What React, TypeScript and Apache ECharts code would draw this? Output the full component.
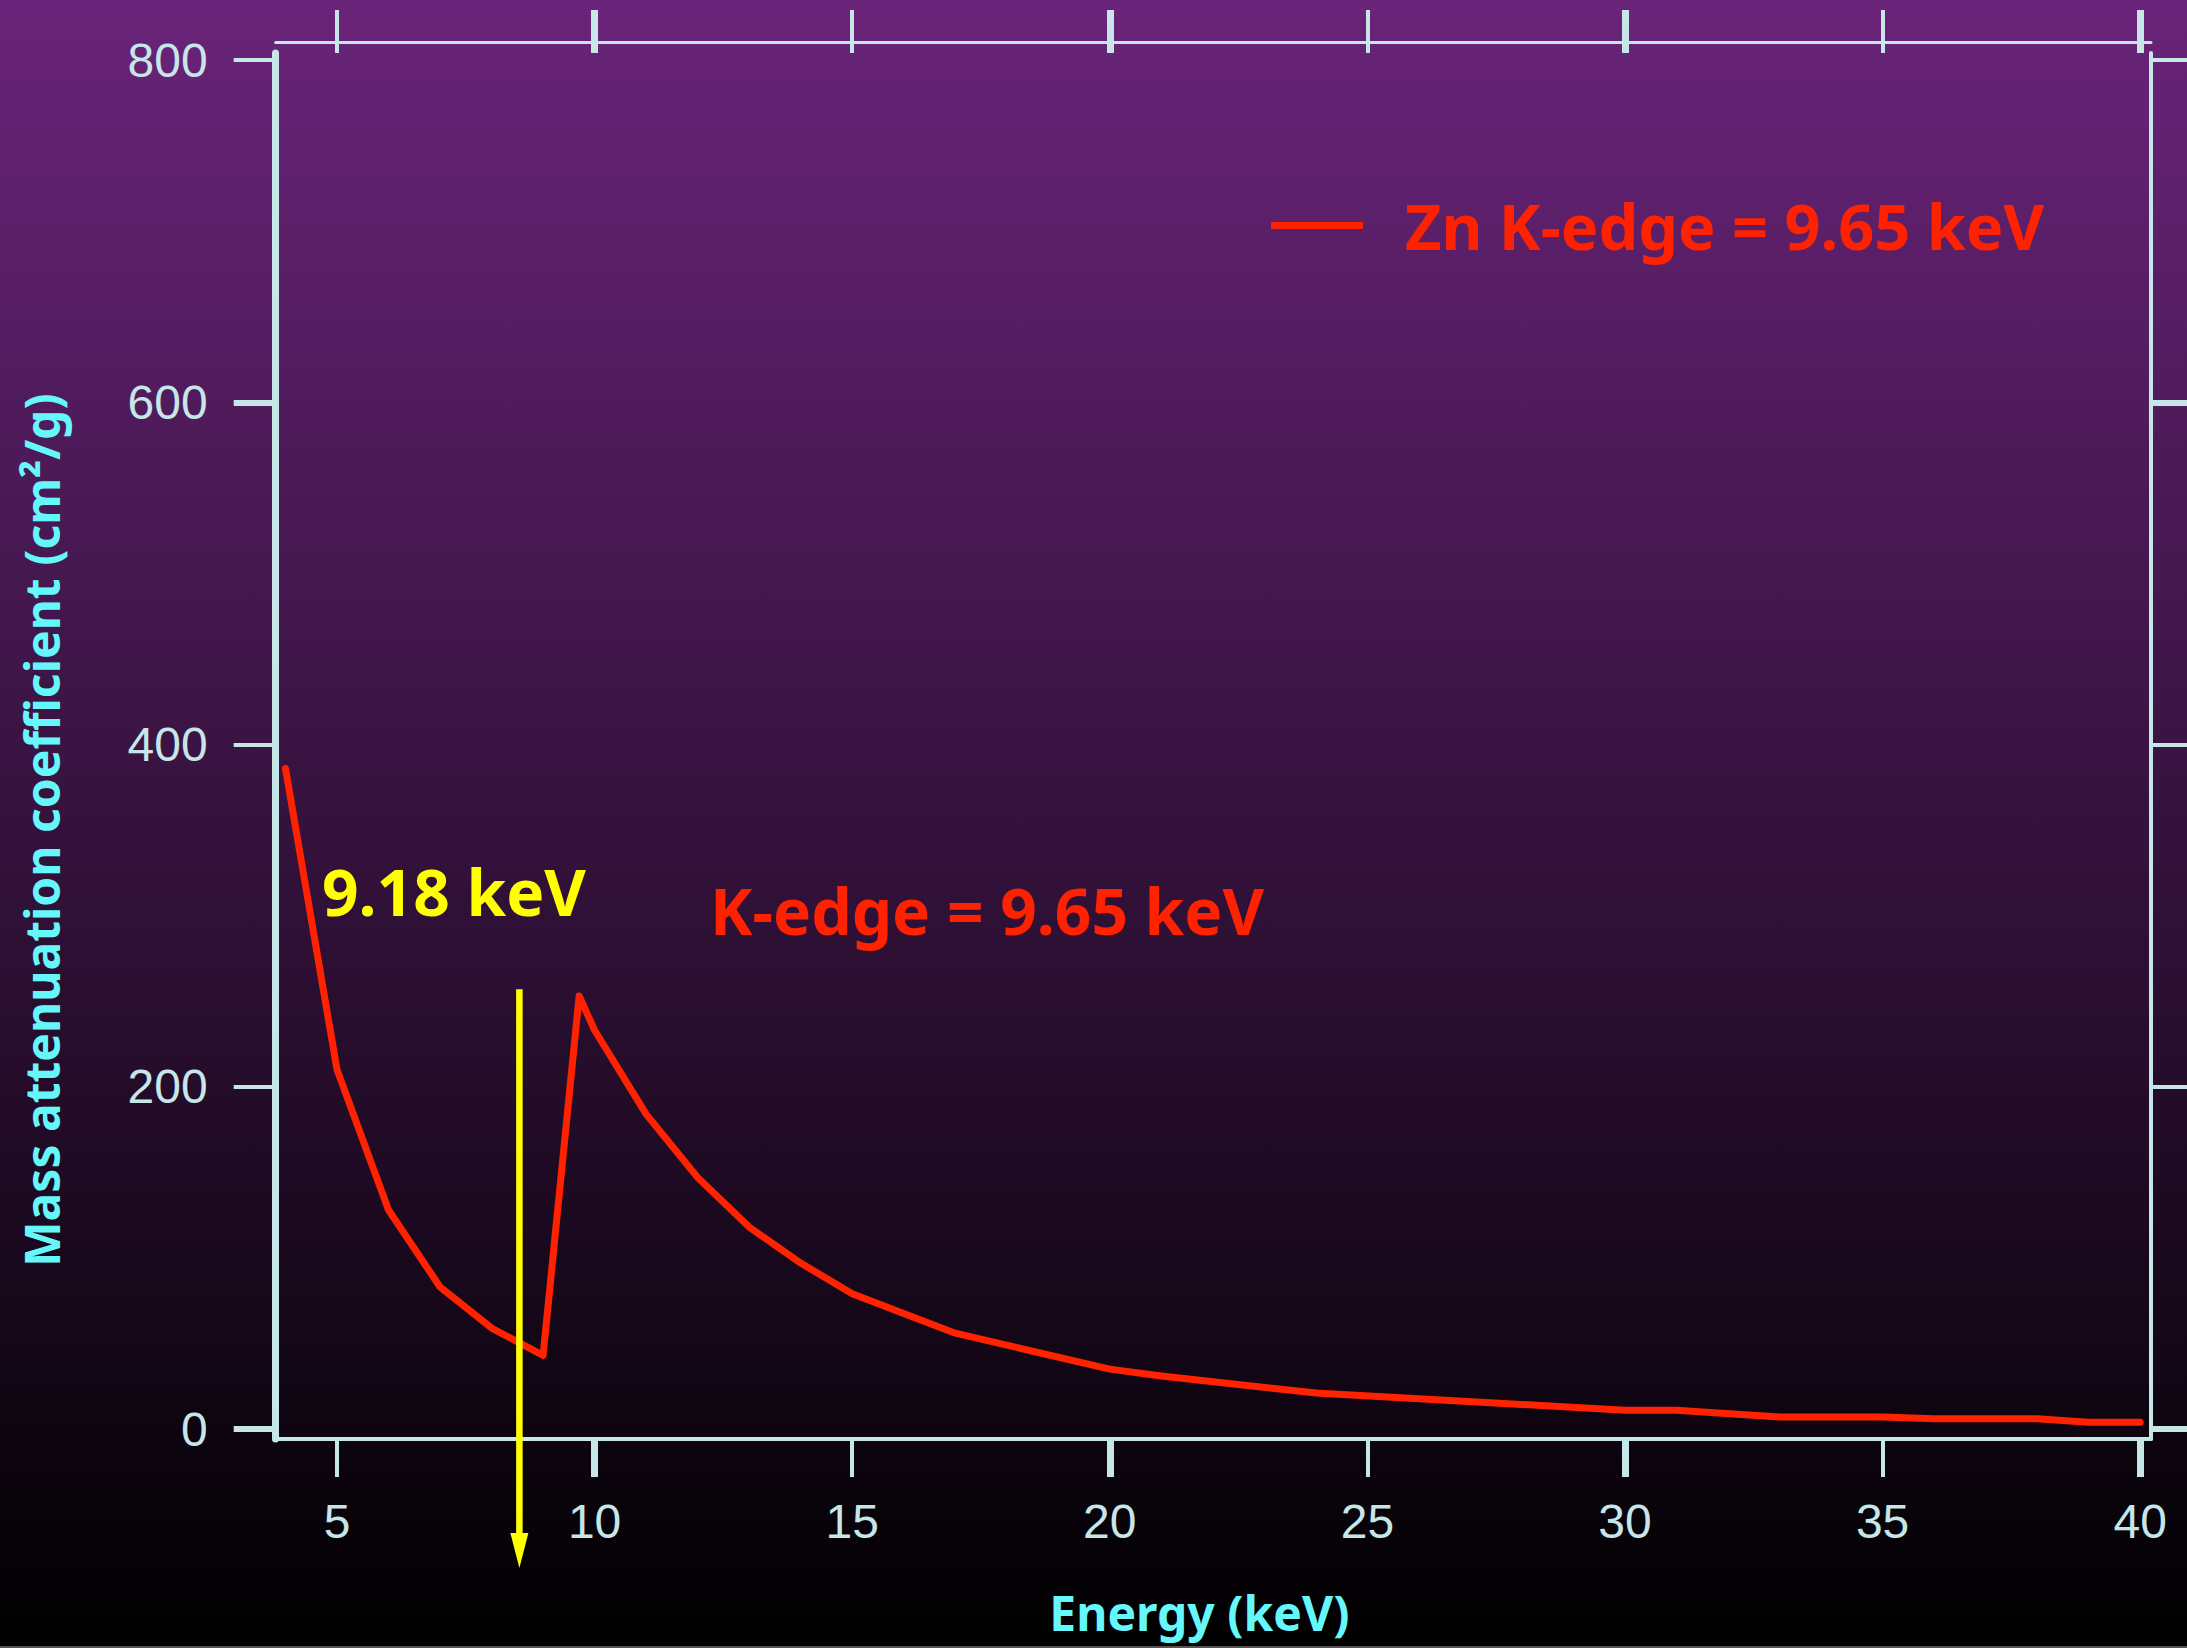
import React, { useEffect, useRef } from 'react';
import * as echarts from 'echarts';

// ---- data ----
const energyKeV = [4, 5, 6, 7, 8, 9.0, 9.7, 10, 11, 12, 13, 14, 15, 17, 20, 21, 24, 30, 31, 33, 35, 36, 38, 39, 40];
const massAtten = [386, 210, 128, 83, 59, 43, 253, 233, 184, 147, 118, 97, 79, 56, 35, 31, 21, 11, 11, 7, 7, 6, 6, 4, 4];
const xTicksThin = [5, 15, 25, 35];
const xTicksThick = [10, 20, 30, 40];
const xTickLabels = [5, 10, 15, 20, 25, 30, 35, 40];
const yTicksThin = [200, 400, 800];
const yTicksThick = [0, 600];
const yTickLabels = [0, 200, 400, 600, 800];
const arrowEnergy = [8.54, 8.54];
const arrowValues = [257, -71];

const seriesName = 'Zn K-edge = 9.65 keV';
const X_MIN = 3.81;
const X_MAX = 40.21;
const Y_MIN = -5.84;
const Y_MAX = 804.1;

const AX = '#c6e6e8';
const RED = '#ff2200';
const YEL = '#ffff00';
const CYAN = '#66f7fa';
const LABEL_FONT = "'Liberation Sans', Arial, sans-serif";
const ANNOT_FONT = "'Noto Sans', sans-serif";

export default function App() {
  const ref = useRef<HTMLDivElement>(null);

  useEffect(() => {
    if (!ref.current) return;
    const chart = echarts.init(ref.current, undefined, { renderer: 'svg' });

    const xBase = { type: 'value', min: X_MIN, max: X_MAX, splitLine: { show: false } };
    const yBase = { type: 'value', min: Y_MIN, max: Y_MAX, splitLine: { show: false } };
    const noLine = { show: false, onZero: false };
    const noLabel = { show: false };

    const option: any = {
      animation: false,
      backgroundColor: 'transparent',
      grid: {
        left: 275.7,
        right: 36,
        top: 53,
        bottom: 209,
        containLabel: false,
        outerBoundsMode: 'none',
      },
      legend: {
        data: [seriesName],
        left: 1271,
        top: 194,
        padding: 0,
        icon: 'rect',
        itemWidth: 92,
        itemHeight: 7,
        selectedMode: false,
        itemStyle: { borderWidth: 0 },
        textStyle: {
          color: RED,
          fontSize: 63,
          fontWeight: 'bold',
          fontFamily: ANNOT_FONT,
          padding: [0, 0, 22, 37],
        },
      },
      xAxis: [
        {
          ...xBase,
          position: 'bottom',
          axisLine: { show: true, onZero: false, lineStyle: { color: AX, width: 4 } },
          axisTick: { show: true, customValues: xTicksThin, length: 38, lineStyle: { color: AX, width: 4 } },
          axisLabel: { show: true, customValues: xTickLabels, margin: 58, color: AX, fontSize: 48, fontFamily: LABEL_FONT },
          name: 'Energy (keV)',
          nameLocation: 'middle',
          nameGap: 149,
          nameTextStyle: { color: CYAN, fontSize: 48, fontWeight: 'bold', fontFamily: ANNOT_FONT, padding: [0, 28, 0, 0] },
        },
        {
          ...xBase,
          position: 'bottom',
          axisLine: noLine,
          axisTick: { show: true, customValues: xTicksThick, length: 38, lineStyle: { color: AX, width: 7 } },
          axisLabel: noLabel,
        },
        {
          ...xBase,
          position: 'top',
          offset: 0,
          axisLine: noLine,
          axisTick: { show: true, customValues: xTicksThin, length: 43, lineStyle: { color: AX, width: 4 } },
          axisLabel: noLabel,
        },
        {
          ...xBase,
          position: 'top',
          offset: 0,
          axisLine: noLine,
          axisTick: { show: true, customValues: xTicksThick, length: 43, lineStyle: { color: AX, width: 7 } },
          axisLabel: noLabel,
        },
        {
          ...xBase,
          position: 'top',
          offset: 10.7,
          axisLine: { show: true, onZero: false, lineStyle: { color: AX, width: 3 } },
          axisTick: { show: false },
          axisLabel: noLabel,
        },
      ],
      yAxis: [
        {
          ...yBase,
          position: 'left',
          axisLine: { show: true, onZero: false, lineStyle: { color: AX, width: 7 } },
          axisTick: { show: true, customValues: yTicksThin, length: 42, lineStyle: { color: AX, width: 4 } },
          axisLabel: { show: true, customValues: yTickLabels, margin: 68, color: AX, fontSize: 48, fontFamily: LABEL_FONT, padding: [0, 0, 8, 0] },
          name: 'Mass attenuation coefficient (cm²/g)',
          nameLocation: 'middle',
          nameGap: 210,
          nameTextStyle: { color: CYAN, fontSize: 48, fontWeight: 'bold', fontFamily: ANNOT_FONT, padding: [0, 168, 0, 0] },
        },
        {
          ...yBase,
          position: 'left',
          axisLine: noLine,
          axisTick: { show: true, customValues: yTicksThick, length: 42, lineStyle: { color: AX, width: 6 } },
          axisLabel: noLabel,
        },
        {
          ...yBase,
          position: 'right',
          axisLine: { show: true, onZero: false, lineStyle: { color: AX, width: 4 } },
          axisTick: { show: true, customValues: yTicksThin, length: 42, lineStyle: { color: AX, width: 4 } },
          axisLabel: noLabel,
        },
        {
          ...yBase,
          position: 'right',
          axisLine: noLine,
          axisTick: { show: true, customValues: yTicksThick, length: 42, lineStyle: { color: AX, width: 6 } },
          axisLabel: noLabel,
        },
      ],
      series: [
        {
          type: 'line',
          name: seriesName,
          xAxisIndex: 0,
          yAxisIndex: 0,
          data: energyKeV.map((e, i) => [e, massAtten[i]]),
          symbol: 'none',
          showSymbol: false,
          silent: true,
          clip: false,
          z: 3,
          lineStyle: { color: RED, width: 7, join: 'round', cap: 'round' },
          itemStyle: { color: RED },
        },
        {
          type: 'line',
          name: 'arrow',
          xAxisIndex: 0,
          yAxisIndex: 0,
          silent: true,
          clip: false,
          z: 5,
          data: [
            { value: [arrowEnergy[0], arrowValues[0]], symbol: 'none' },
            { value: [arrowEnergy[1], arrowValues[1]], symbol: 'triangle', symbolSize: [18, 35], symbolRotate: 180 },
          ],
          showSymbol: true,
          lineStyle: { color: YEL, width: 6.5 },
          itemStyle: { color: YEL, borderWidth: 0 },
        },
      ],
      graphic: [
        {
          type: 'text',
          x: 322,
          y: 891.7,
          z: 10,
          style: {
            text: '9.18 keV',
            fill: YEL,
            fontSize: 64,
            fontWeight: 'bold',
            fontFamily: ANNOT_FONT,
            align: 'left',
            verticalAlign: 'middle',
          },
        },
        {
          type: 'text',
          x: 710,
          y: 910,
          z: 10,
          style: {
            text: 'K-edge = 9.65 keV',
            fill: RED,
            fontSize: 64,
            fontWeight: 'bold',
            fontFamily: ANNOT_FONT,
            align: 'left',
            verticalAlign: 'middle',
          },
        },
        {
          type: 'rect',
          z: 10,
          shape: { x: 0, y: 1646, width: 2187, height: 2 },
          style: { fill: '#555555' },
        },
      ],
    };

    chart.setOption(option);
    return () => {
      chart.dispose();
    };
  }, []);

  return (
    <div
      ref={ref}
      style={{
        position: 'fixed',
        left: 0,
        top: 0,
        width: 2187,
        height: 1648,
        background: 'linear-gradient(to bottom, #6a247a 0%, #000000 100%)',
      }}
    />
  );
}
